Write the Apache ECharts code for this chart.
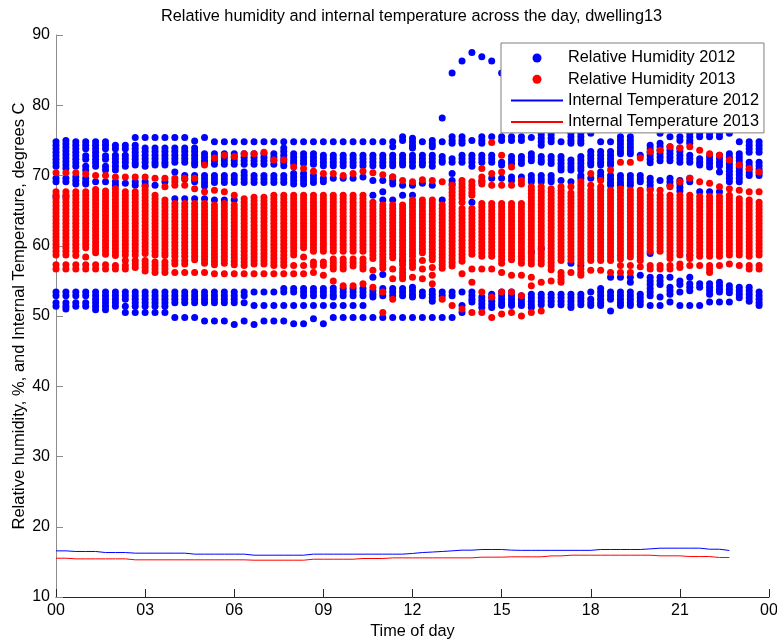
<!DOCTYPE html>
<html>
<head>
<meta charset="utf-8">
<title>dwelling13</title>
<script src="https://cdn.jsdelivr.net/npm/echarts@6/dist/echarts.min.js"></script>
<style>
html, body { margin: 0; padding: 0; background: #fff; }
#box { width: 777px; height: 642px; }
</style>
</head>
<body>
<div id="box"></div>
<script>
// 每20分钟一列 (分钟)
var slots = [0,20,40,60,80,100,120,140,160,180,200,220,240,260,280,300,320,340,360,380,400,420,440,460,
    480,500,520,540,560,580,600,620,640,660,680,700,720,740,760,780,800,820,840,860,880,900,920,940,
    960,980,1000,1020,1040,1060,1080,1100,1120,1140,1160,1180,1200,1220,1240,1260,1280,1300,1320,1340,1360,1380,1400,1420];
var tickLabels = ['00', '03', '06', '09', '12', '15', '18', '21', '00'];

// Relative Humidity 2012, 每列的点
var rh2012 = [
    [74.8,74.3,73.8,73.3,72.8,72.3,71.8,71.3,69.6,69.1,67.0,53.4,52.9,51.9,51.4],
    [75.0,74.5,74.0,73.5,73.0,72.5,72.0,71.5,71.0,69.6,69.1,67.0,53.4,52.9,51.9,51.4,51.0],
    [74.8,74.3,73.8,73.3,72.8,72.3,71.8,71.3,69.8,69.3,68.8,53.4,52.9,51.9,51.4],
    [74.8,74.3,73.8,72.8,72.3,71.3,70.8,69.6,69.1,68.8,53.4,52.9,51.9,51.4],
    [74.8,74.3,73.8,73.3,72.8,72.3,71.8,71.3,69.1,53.4,52.9,52.4,51.9,51.4,50.9],
    [74.8,74.3,73.8,72.8,72.3,71.3,70.8,69.1,53.4,52.9,52.4,51.9,51.4,50.9],
    [74.3,73.8,72.9,72.4,71.9,71.3,70.8,69.1,68.6,53.4,52.9,52.4,51.9,51.4],
    [74.3,73.8,72.9,72.4,71.9,71.3,68.9,53.4,52.9,52.4,51.4,50.5],
    [75.4,74.3,73.8,73.3,72.8,72.3,71.8,71.5,69.1,68.6,53.4,52.9,52.4,51.9,51.4,50.5],
    [75.4,73.9,73.4,72.9,72.4,71.9,71.3,69.1,68.6,53.4,52.9,52.4,51.9,51.4,50.5],
    [75.4,73.9,73.4,72.9,72.4,71.9,71.5,68.6,53.4,52.9,52.4,51.9,51.4,50.5],
    [75.4,73.9,73.4,72.9,72.4,71.9,71.5,69.1,53.4,52.9,52.4,51.9,51.4,50.5],
    [75.4,73.9,73.4,72.9,72.4,71.9,70.5,66.7,53.4,52.9,52.4,51.9,49.8],
    [75.4,73.9,73.4,72.9,72.4,71.9,70.0,69.5,66.7,53.4,52.9,52.4,51.9,49.8],
    [74.9,73.9,73.4,72.9,72.4,71.9,71.5,70.0,69.5,69.1,66.7,53.4,52.9,52.4,51.9,49.8],
    [75.4,73.1,72.6,72.1,71.7,70.0,69.5,69.0,68.5,66.7,53.4,52.9,52.4,51.9,49.3],
    [74.8,73.1,72.6,72.1,71.6,70.0,69.5,69.0,66.5,53.4,52.9,52.4,51.9,49.3],
    [74.8,73.1,72.6,72.1,71.6,70.0,69.5,69.0,66.5,53.4,52.9,52.4,51.9,49.3],
    [74.8,73.1,72.6,72.1,71.6,70.0,69.5,69.0,66.5,53.4,52.9,52.4,51.9,48.8],
    [74.8,73.1,72.6,72.1,71.6,70.5,70.0,69.5,69.0,53.4,52.9,51.9,49.3],
    [74.8,73.1,72.6,72.1,71.6,70.0,69.5,69.0,53.4,51.5,48.8],
    [74.8,73.1,72.6,72.1,71.6,70.0,69.5,69.0,53.4,51.5,49.3],
    [74.8,73.1,72.6,72.1,71.6,70.0,69.5,69.0,53.4,51.5,49.3],
    [74.8,73.9,73.4,72.9,72.4,71.9,71.4,70.0,69.5,69.0,53.9,53.4,51.5,49.3],
    [74.8,73.1,72.6,72.1,71.7,70.3,69.8,69.3,68.8,53.9,53.4,51.5,48.9],
    [74.8,73.1,72.6,72.1,71.7,70.3,69.8,69.3,68.8,53.9,53.4,52.9,51.5,48.9],
    [74.8,73.1,72.6,72.1,71.6,70.0,69.5,69.0,53.9,53.4,52.9,51.5,49.6],
    [74.8,72.9,72.4,71.9,71.4,69.6,69.1,53.9,53.4,52.9,51.5,48.9],
    [74.8,72.9,72.4,71.9,71.4,69.6,54.0,53.5,53.0,52.7,51.5,49.8],
    [74.8,72.9,72.4,71.9,71.4,69.6,53.9,53.4,52.9,51.5,49.8],
    [74.8,72.9,72.4,71.9,71.4,69.6,53.9,53.4,52.9,51.5,49.8],
    [74.8,72.9,72.4,71.9,71.4,69.8,53.9,53.4,52.9,51.5,49.8],
    [74.8,72.9,72.4,71.9,71.4,69.3,67.2,55.5,53.6,53.1,52.7,49.8],
    [74.8,72.9,72.4,71.9,71.4,69.3,67.7,66.5,55.9,53.9,53.4,52.9,49.8],
    [74.8,74.1,72.9,72.4,71.9,71.4,69.8,69.3,68.8,66.5,53.9,53.4,52.9,49.8],
    [75.5,75.0,72.9,72.4,71.9,71.5,68.6,67.2,57.9,53.9,53.4,52.9,49.8],
    [75.3,74.8,74.3,73.9,72.9,72.4,71.9,71.3,68.6,67.2,54.1,53.6,53.1,52.7,49.8],
    [74.8,72.9,72.4,71.9,71.5,68.9,53.4,52.9,49.8],
    [75.0,74.5,74.1,72.9,72.4,71.9,71.3,68.6,53.6,53.1,52.6,52.1,49.8],
    [78.2,74.8,72.7,72.2,71.9,66.5,53.4,52.9,49.8],
    [84.6,75.5,75.0,74.6,72.4,71.9,70.3,69.3,68.8,53.4,52.9,49.8],
    [86.3,75.5,75.0,74.6,72.9,72.4,71.9,53.4,51.5,50.5],
    [87.5,75.0,72.9,72.4,71.9,71.3,66.2,53.4,52.9,52.4,52.0],
    [86.9,75.5,75.0,74.6,72.9,72.4,71.9,69.1,52.7,52.2,51.7,51.2],
    [86.3,75.5,72.9,72.4,71.9,69.6,53.1,52.6,52.1,51.6,51.2],
    [84.6,75.5,75.0,71.9,71.5,69.6,53.4,52.9,52.4,51.9,51.5],
    [75.5,75.0,72.7,72.2,71.7,69.8,69.3,53.4,52.9,52.4,51.9,51.5],
    [75.5,75.0,72.7,72.2,71.7,69.8,52.9,52.4,51.9,51.5],
    [75.4,73.1,72.6,72.1,70.0,69.5,69.1,59.1,53.1,52.6,52.1,51.6,51.2],
    [75.8,75.3,74.8,74.3,72.7,72.2,71.9,70.0,69.5,69.1,59.6,53.1,52.6,52.1,51.6],
    [75.8,75.3,74.8,72.7,72.2,71.7,70.0,69.5,69.1,53.1,52.6,52.1,51.6],
    [74.8,72.7,72.2,71.7,71.2,70.8,69.3,53.1,52.6,52.1,51.6],
    [76.0,75.5,75.0,74.6,72.2,71.7,71.2,70.8,69.1,57.5,53.1,52.6,52.1,51.6,51.2],
    [76.0,75.5,75.0,74.6,72.7,72.2,71.7,71.2,70.8,70.0,69.6,57.2,53.1,52.6,52.1,51.6],
    [76.0,73.4,72.9,72.4,71.9,71.5,69.6,53.4,52.4,51.9,51.5],
    [74.8,73.4,72.9,72.4,71.9,71.5,70.5,70.0,69.6,53.9,53.4,52.9,52.4,51.9,51.5],
    [74.8,73.4,72.9,72.4,71.9,71.5,70.0,69.5,69.0,68.6,55.5,53.4,52.9,52.4,50.7],
    [75.5,75.0,74.5,74.0,73.5,73.1,70.0,69.5,69.0,68.6,55.5,53.4,52.9,52.4,51.9,51.5],
    [75.5,75.0,74.5,74.0,73.5,73.1,70.0,69.5,69.0,68.6,55.5,54.8,53.4,52.9,52.4,51.9,51.5],
    [72.9,70.0,69.5,69.1,55.8,53.1,52.6,52.1,51.6],
    [74.3,73.8,73.3,72.8,72.3,71.8,69.6,69.1,68.6,68.1,58.9,55.5,55.0,54.5,53.9,53.4,52.9,51.5],
    [76.0,74.6,74.1,73.6,73.1,72.6,72.1,69.3,55.5,55.0,54.5,52.7,51.5],
    [75.5,74.1,73.6,73.1,72.6,72.1,69.6,69.1,68.6,55.5,54.1,53.6,53.1,52.0],
    [75.5,75.0,73.9,73.4,72.9,72.4,71.9,69.3,68.8,68.3,67.8,55.0,54.5,53.4,51.5],
    [76.0,75.5,75.0,74.6,72.9,72.4,71.9,69.6,69.1,58.6,55.5,54.6,54.1,53.6,51.5],
    [76.0,75.5,72.4,71.9,71.5,67.7,54.6,54.1,51.5],
    [76.0,75.5,72.7,72.2,71.7,71.2,67.7,54.6,54.1,53.6,53.1,52.0],
    [76.0,75.5,72.9,72.4,71.9,71.4,70.5,67.7,54.8,54.3,53.8,53.4,52.0],
    [76.0,73.1,72.6,72.1,71.6,71.1,70.6,70.1,69.6,69.1,54.3,53.8,53.3,52.0],
    [74.8,73.1,72.6,72.1,71.6,71.1,70.6,70.1,69.6,69.1,54.1,53.6,53.1,52.6],
    [74.8,74.3,73.8,73.3,71.9,71.4,70.9,70.4,70.0,54.1,53.6,53.1,52.6,52.1],
    [74.8,74.3,73.8,73.3,71.9,71.4,70.9,70.4,70.0,53.4,52.9,52.4,51.9,51.5]
];

// Relative Humidity 2013
var rh2013 = [
    [70.4,67.7,67.2,66.7,66.2,65.7,65.2,64.7,64.2,63.7,63.2,62.7,62.2,61.7,61.2,60.7,60.2,59.7,59.2,58.7,57.3,56.7],
    [70.4,67.7,67.2,66.7,66.2,65.7,65.2,64.7,64.2,63.7,63.2,62.7,62.2,61.7,61.2,60.7,60.2,59.7,59.2,58.7,57.3,56.7],
    [70.4,67.7,67.2,66.7,66.2,65.7,65.2,64.7,64.2,63.7,63.2,62.7,62.2,61.7,61.2,60.7,60.2,59.7,59.2,58.6,57.3,56.7],
    [70.2,67.7,67.2,66.7,66.2,65.7,65.2,64.7,64.2,63.7,63.2,62.7,62.2,61.7,61.2,60.7,60.2,59.7,58.4,57.3,56.7],
    [70.0,68.0,67.5,67.0,66.5,66.0,65.5,65.0,64.5,64.0,63.5,63.0,62.5,62.0,61.5,61.0,60.5,60.0,59.5,59.0,57.3,56.7],
    [70.0,67.8,67.3,66.8,66.3,65.8,65.3,64.8,64.3,63.8,63.3,62.8,62.3,61.8,61.3,60.8,60.3,59.8,59.3,58.8,57.3,56.7],
    [69.8,68.1,67.6,67.1,66.6,66.1,65.6,65.1,64.6,64.1,63.6,63.1,62.6,62.1,61.6,61.1,60.6,60.1,59.6,59.1,58.6,57.2,56.7],
    [69.8,67.7,67.2,66.7,66.2,65.7,65.2,64.7,64.2,63.7,63.2,62.7,62.2,61.7,61.2,60.7,60.2,59.7,59.2,58.7,57.9,57.2,56.7],
    [69.8,67.7,67.2,66.7,66.2,65.7,65.2,64.7,64.2,63.7,63.2,62.7,62.2,61.7,61.2,60.7,60.2,59.7,59.2,58.7,57.9,57.4,56.9],
    [69.8,68.4,67.9,67.4,66.9,66.4,65.9,65.4,64.9,64.4,63.9,63.4,62.9,62.4,61.9,61.4,60.9,60.4,59.9,59.4,58.9,57.9,57.4,56.9,56.4],
    [69.6,67.2,66.7,66.2,65.7,65.2,64.7,64.2,63.7,63.2,62.7,62.2,61.7,61.2,60.7,60.2,59.7,59.2,58.7,57.7,57.2,56.7,56.2],
    [69.6,68.4,66.5,66.0,65.5,65.0,64.5,64.0,63.5,63.0,62.5,62.0,61.5,61.0,60.5,60.0,59.5,59.0,58.6,57.7,57.2,56.7,56.2],
    [69.6,69.1,68.6,66.0,65.5,65.0,64.5,64.0,63.5,63.0,62.5,62.0,61.5,61.0,60.5,60.0,59.5,59.0,58.5,57.9,57.4,56.2],
    [69.6,68.6,66.0,65.5,65.0,64.5,64.0,63.5,63.0,62.5,62.0,61.5,61.0,60.5,60.0,59.5,59.0,58.5,57.9,57.4,56.2],
    [69.6,68.1,66.0,65.5,65.0,64.5,64.0,63.5,63.0,62.5,62.0,61.5,61.0,60.5,60.0,59.5,59.0,58.5,58.0,56.2],
    [71.5,67.7,66.0,65.5,65.0,64.5,64.0,63.5,63.0,62.5,62.0,61.5,61.0,60.5,60.0,59.5,59.0,58.5,58.0,57.5,56.2],
    [72.5,67.9,65.8,65.3,64.8,64.3,63.8,63.3,62.8,62.3,61.8,61.3,60.8,60.3,59.8,59.3,58.8,58.3,57.8,57.3,56.0],
    [72.9,67.7,66.0,65.5,65.0,64.5,64.0,63.5,63.0,62.5,62.0,61.5,61.0,60.5,60.0,59.5,59.0,58.5,58.0,57.5,56.0],
    [72.7,67.2,65.8,65.3,64.8,64.3,63.8,63.3,62.8,62.3,61.8,61.3,60.8,60.3,59.8,59.3,58.8,58.3,57.8,57.3,56.0],
    [73.1,66.7,66.2,65.7,65.2,64.7,64.2,63.7,63.2,62.7,62.2,61.7,61.2,60.7,60.2,59.7,59.2,58.7,58.2,57.7,57.2,56.0],
    [73.1,66.9,66.4,65.9,65.4,64.9,64.4,63.9,63.4,62.9,62.4,61.9,61.4,60.9,60.4,59.9,59.4,58.9,58.4,57.9,57.4,56.0],
    [73.3,66.9,66.4,65.9,65.4,64.9,64.4,63.9,63.4,62.9,62.4,61.9,61.4,60.9,60.4,59.9,59.4,58.9,58.4,57.9,57.4,56.0],
    [72.2,67.2,66.7,66.2,65.7,65.2,64.7,64.2,63.7,63.2,62.7,62.2,61.7,61.2,60.7,60.2,59.7,59.2,58.7,58.2,57.7,57.2,56.0],
    [72.2,67.2,66.7,66.2,65.7,65.2,64.7,64.2,63.7,63.2,62.7,62.2,61.7,61.2,60.7,60.2,59.7,59.2,58.7,58.2,57.7,57.2,56.0],
    [71.2,67.2,66.7,66.2,65.7,65.2,64.7,64.2,63.7,63.2,62.7,62.2,61.7,61.2,60.7,60.2,59.7,59.2,58.7,57.2,56.0],
    [71.0,67.2,66.7,66.2,65.7,65.2,64.7,64.2,63.7,63.2,62.7,62.2,61.7,61.2,60.7,60.2,59.7,58.4,57.2,56.0],
    [70.6,67.2,66.7,66.2,65.7,65.2,64.7,64.2,63.7,63.2,62.7,62.2,61.7,61.2,60.7,60.2,59.7,59.2,57.7,57.2,56.2],
    [70.3,67.2,66.7,66.2,65.7,65.2,64.7,64.2,63.7,63.2,62.7,62.2,61.7,61.2,60.7,60.2,59.7,59.2,57.7,57.2,55.8],
    [70.3,67.2,66.7,66.2,65.7,65.2,64.7,64.2,63.7,63.2,62.7,62.2,61.7,61.2,60.7,60.2,59.7,59.2,58.1,57.6,57.1,56.7,55.0],
    [70.0,67.2,66.7,66.2,65.7,65.2,64.7,64.2,63.7,63.2,62.7,62.2,61.7,61.2,60.7,60.2,59.7,59.2,58.1,57.6,57.1,56.7,54.3],
    [70.3,67.2,66.7,66.2,65.7,65.2,64.7,64.2,63.7,63.2,62.7,62.2,61.7,61.2,60.7,60.2,59.7,59.2,58.1,57.6,57.1,54.3],
    [70.6,67.2,66.7,66.2,65.7,65.2,64.7,64.2,63.7,63.2,62.7,62.2,61.7,61.2,60.7,60.2,59.7,59.2,58.1,57.6,57.1,56.7,54.6],
    [70.4,66.2,65.7,65.2,64.7,64.2,63.7,63.2,62.7,62.2,61.7,61.2,60.7,60.2,59.7,59.2,58.7,58.2,56.5,54.1],
    [70.1,65.8,65.3,64.8,64.3,63.8,63.3,62.8,62.3,61.8,61.3,60.8,60.3,59.8,59.3,58.8,58.3,57.8,57.3,56.8,53.4,50.5],
    [69.8,65.8,65.3,64.8,64.3,63.8,63.3,62.8,62.3,61.8,61.3,60.8,60.3,59.8,59.3,58.8,58.3,56.7,55.3,52.4],
    [69.3,65.8,65.3,64.8,64.3,63.8,63.3,62.8,62.3,61.8,61.3,60.8,60.3,59.8,59.3,58.8,58.3,57.8,57.3,56.7,56.2,55.7,55.3],
    [69.1,66.5,66.0,65.5,65.0,64.5,64.0,63.5,63.0,62.5,62.0,61.5,61.0,60.5,60.0,59.5,59.0,58.5,57.9,57.4,56.9,55.5],
    [69.4,66.5,66.0,65.5,65.0,64.5,64.0,63.5,63.0,62.5,62.0,61.5,61.0,60.5,60.0,59.5,59.0,57.9,56.7,55.3],
    [69.3,66.5,66.0,65.5,65.0,64.5,64.0,63.5,63.0,62.5,62.0,61.5,61.0,60.5,60.0,59.5,59.0,58.5,58.0,56.9,55.8,54.6],
    [69.1,65.8,65.3,64.8,64.3,63.8,63.3,62.8,62.3,61.8,61.3,60.8,60.3,59.8,59.3,58.8,58.3,57.8,57.3,56.8,52.4],
    [68.6,68.1,67.6,67.1,66.6,66.1,65.6,65.1,64.6,64.1,63.6,63.1,62.6,62.1,61.6,61.1,60.6,60.1,59.6,59.1,58.6,58.1,57.6,57.1,51.5],
    [69.3,68.8,68.3,67.8,67.3,66.8,66.2,65.3,64.8,64.3,63.8,63.3,62.8,62.3,61.8,61.3,60.8,60.3,59.8,59.3,58.8,58.3,57.8,56.0,51.0],
    [69.1,68.6,68.1,67.6,67.2,65.3,64.8,64.3,63.8,63.3,62.8,62.3,61.8,61.3,60.8,60.3,59.8,59.3,58.8,56.7,54.8,50.5],
    [71.0,69.8,69.3,68.8,66.0,65.5,65.0,64.5,64.0,63.5,63.0,62.5,62.0,61.5,61.0,60.5,60.0,59.5,59.0,58.5,56.7,53.4,50.5],
    [74.7,70.3,68.6,66.0,65.5,65.0,64.5,64.0,63.5,63.0,62.5,62.0,61.5,61.0,60.5,60.0,59.5,59.0,58.5,56.7,52.7,49.8],
    [72.9,70.5,68.6,66.0,65.5,65.0,64.5,64.0,63.5,63.0,62.5,62.0,61.5,61.0,60.5,60.0,59.5,59.0,58.5,58.0,57.5,56.2,53.4,50.3],
    [71.2,68.6,66.0,65.5,65.0,64.5,64.0,63.5,63.0,62.5,62.0,61.5,61.0,60.5,60.0,59.5,59.0,58.5,58.0,55.8,53.4,50.5],
    [69.3,68.8,66.0,65.5,65.0,64.5,64.0,63.5,63.0,62.5,62.0,61.5,61.0,60.5,60.0,59.5,59.0,58.5,58.0,57.5,55.8,52.9,50.0],
    [68.4,67.9,67.4,66.9,66.4,65.9,65.4,64.9,64.4,63.9,63.4,62.9,62.4,61.9,61.4,60.9,60.4,59.9,59.4,58.9,58.4,57.9,57.4,55.5,54.3,50.5],
    [68.4,67.9,67.4,66.9,66.4,65.9,65.4,64.9,64.4,63.9,63.4,62.9,62.4,61.9,61.4,60.9,60.4,59.9,59.4,58.9,58.4,57.9,57.4,54.8,50.7],
    [68.1,67.6,67.1,66.6,66.1,65.6,65.1,64.6,64.1,63.6,63.1,62.6,62.1,61.6,61.1,60.6,60.1,59.6,59.1,58.6,58.1,57.6,57.1,56.6,55.0],
    [68.4,67.9,67.4,66.9,66.4,65.9,65.4,64.9,64.4,63.9,63.4,62.9,62.4,61.9,61.4,60.9,60.4,59.9,59.4,58.9,58.4,57.9,56.2,55.7,55.2,54.8],
    [68.4,67.5,67.0,66.5,66.0,65.5,65.0,64.5,64.0,63.5,63.0,62.5,62.0,61.5,61.0,60.5,60.0,59.5,59.0,58.5,58.0,56.2],
    [69.1,68.6,68.1,67.6,67.1,66.6,66.1,65.6,65.1,64.6,64.1,63.6,63.1,62.6,62.1,61.6,61.1,60.6,60.1,59.6,59.1,58.6,58.1,57.6,56.7,56.2,55.8],
    [70.3,68.6,67.9,67.4,66.9,66.4,65.9,65.4,64.9,64.4,63.9,63.4,62.9,62.4,61.9,61.4,60.9,60.4,59.9,59.4,58.9,58.4,57.9,56.5],
    [69.3,68.4,67.9,67.4,66.9,66.4,65.9,65.4,64.9,64.4,63.9,63.4,62.9,62.4,61.9,61.4,60.9,60.4,59.9,59.4,58.9,58.4,57.9,56.5],
    [70.8,67.9,67.4,66.9,66.4,65.9,65.4,64.9,64.4,63.9,63.4,62.9,62.4,61.9,61.4,60.9,60.4,59.9,59.4,58.9,58.4,57.9,56.2],
    [71.9,68.1,67.6,67.1,66.6,66.1,65.6,65.1,64.6,64.1,63.6,63.1,62.6,62.1,61.6,61.1,60.6,60.1,59.6,59.1,58.6,58.1,57.2,56.2],
    [71.9,67.9,67.4,66.9,66.4,65.9,65.4,64.9,64.4,63.9,63.4,62.9,62.4,61.9,61.4,60.9,60.4,59.9,59.4,58.9,58.4,57.2,56.2],
    [72.5,67.9,67.4,66.9,66.4,65.9,65.4,64.9,64.4,63.9,63.4,62.9,62.4,61.9,61.4,60.9,60.4,59.9,59.4,58.9,58.4,57.9,57.0],
    [73.4,67.9,67.2,66.7,66.2,65.7,65.2,64.7,64.2,63.7,63.2,62.7,62.2,61.7,61.2,60.7,60.2,59.7,59.2,57.2,56.7],
    [73.6,67.9,67.2,66.7,66.2,65.7,65.2,64.7,64.2,63.7,63.2,62.7,62.2,61.7,61.2,60.7,60.2,59.7,59.2,57.2,56.7],
    [74.1,68.4,67.2,66.7,66.2,65.7,65.2,64.7,64.2,63.7,63.2,62.7,62.2,61.7,61.2,60.7,60.2,59.7,59.2,58.7,58.2,57.2,56.7],
    [73.9,69.1,67.2,66.7,66.2,65.7,65.2,64.7,64.2,63.7,63.2,62.7,62.2,61.7,61.2,60.7,60.2,59.7,59.2,58.7,57.4,56.9],
    [74.1,69.6,67.2,66.7,66.2,65.7,65.2,64.7,64.2,63.7,63.2,62.7,62.2,61.7,61.2,60.7,60.2,59.7,59.2,58.7,58.2,57.2],
    [73.6,69.1,67.0,66.5,66.0,65.5,65.0,64.5,64.0,63.5,63.0,62.5,62.0,61.5,61.0,60.5,60.0,59.5,59.0,58.5,57.2],
    [73.1,68.9,67.0,66.5,66.0,65.5,65.0,64.5,64.0,63.5,63.0,62.5,62.0,61.5,61.0,60.5,60.0,59.5,59.0,58.5,57.2,56.7,56.2],
    [72.9,68.4,67.0,66.5,66.0,65.5,65.0,64.5,64.0,63.5,63.0,62.5,62.0,61.5,61.0,60.5,60.0,59.5,59.0,58.5,57.2],
    [72.2,68.1,67.2,66.7,66.2,65.7,65.2,64.7,64.2,63.7,63.2,62.7,62.2,61.7,61.2,60.7,60.2,59.7,59.2,58.7,57.4],
    [71.5,67.9,66.7,66.2,65.7,65.2,64.7,64.2,63.7,63.2,62.7,62.2,61.7,61.2,60.7,60.2,59.7,59.2,58.7,57.2],
    [71.0,67.7,66.5,66.0,65.5,65.0,64.5,64.0,63.5,63.0,62.5,62.0,61.5,61.0,60.5,60.0,59.5,59.0,58.5,57.2,56.7],
    [70.5,67.7,66.2,65.7,65.2,64.7,64.2,63.7,63.2,62.7,62.2,61.7,61.2,60.7,60.2,59.7,59.2,58.7,57.2,56.7]
];

// 室内温度 (到 22:40)
var temp2012 = [16.57,16.57,16.48,16.48,16.48,16.33,16.33,16.33,16.24,16.24,
    16.24,16.24,16.24,16.24,16.10,16.10,16.10,16.10,16.10,16.10,
    15.95,15.95,15.95,15.95,15.95,15.95,16.10,16.10,16.10,16.10,
    16.10,16.10,16.10,16.10,16.10,16.10,16.20,16.33,16.40,16.48,
    16.57,16.67,16.67,16.76,16.76,16.76,16.67,16.64,16.64,16.64,
    16.64,16.64,16.64,16.64,16.64,16.76,16.76,16.76,16.76,16.76,
    16.85,16.95,16.95,16.95,16.95,16.95,16.80,16.80,16.62];
var temp2013 = [15.52,15.52,15.43,15.43,15.43,15.43,15.43,15.43,15.29,15.29,
    15.29,15.29,15.29,15.29,15.29,15.29,15.29,15.29,15.29,15.29,
    15.24,15.24,15.24,15.24,15.24,15.24,15.38,15.38,15.38,15.38,
    15.38,15.48,15.48,15.48,15.57,15.57,15.57,15.57,15.57,15.57,
    15.57,15.57,15.57,15.67,15.67,15.67,15.72,15.72,15.72,15.72,
    15.85,15.85,15.95,15.95,15.95,15.95,15.95,15.95,15.95,15.95,
    15.95,15.86,15.86,15.86,15.76,15.76,15.76,15.62,15.62];

var font = "'Liberation Sans', Arial, Helvetica, sans-serif";

function toPoints(cols) {
    var pts = [];
    for (var i = 0; i < cols.length; i++) {
        for (var j = 0; j < cols[i].length; j++) {
            pts.push([slots[i] / 60, cols[i][j]]);
        }
    }
    return pts;
}

function toLine(vals) {
    var pts = [];
    for (var i = 0; i < vals.length; i++) {
        pts.push([slots[i] / 60, vals[i]]);
    }
    return pts;
}

// 散点 + 折线
function ech() {
    var myChart = echarts.init(document.getElementById('box'));
    var option = {
        animation: false,
        backgroundColor: '#fff',
        textStyle: { fontFamily: font },
        title: {
            text: 'Relative humidity and internal temperature across the day, dwelling13',
            left: 156,
            top: 4,
            textStyle: { fontSize: 16.3, fontWeight: 'normal', color: '#000', fontFamily: font }
        },
        legend: {
            orient: 'vertical',
            left: 501,
            top: 43,
            padding: [7, 5, 3, 9],
            itemGap: 5.3,
            itemWidth: 52,
            itemHeight: 9,
            backgroundColor: '#fff',
            borderColor: '#7f7f7f',
            borderWidth: 1,
            textStyle: { fontSize: 16.3, color: '#000', lineHeight: 16, fontFamily: font },
            data: [
                'Relative Humidity 2012',
                'Relative Humidity 2013',
                { name: 'Internal Temperature 2012', itemStyle: { opacity: 0 } },
                { name: 'Internal Temperature 2013', itemStyle: { opacity: 0 } }
            ]
        },
        // 固定绘图区，不让坐标轴文字挤压
        grid: { left: 56, right: 8, top: 35, bottom: 45, outerBoundsMode: 'none', containLabel: false },
        xAxis: {
            type: 'value',
            min: 0,
            max: 24,
            interval: 3,
            name: 'Time of day',
            nameLocation: 'middle',
            nameGap: 27,
            nameMoveOverlap: false,
            nameTextStyle: { fontSize: 16.3, color: '#000', fontFamily: font },
            axisLine: { onZero: false, lineStyle: { color: '#262626', width: 1 } },
            axisTick: { inside: true, length: 8, lineStyle: { color: '#262626' } },
            axisLabel: {
                margin: 6,
                fontSize: 16,
                color: '#000',
                fontFamily: font,
                formatter: function(v) { return tickLabels[Math.round(v / 3)]; }
            },
            splitLine: { show: false }
        },
        yAxis: {
            type: 'value',
            min: 10,
            max: 90,
            interval: 10,
            name: 'Relative humidity, %, and Internal Temperature, degrees C',
            nameLocation: 'middle',
            nameRotate: 90,
            nameGap: 28,
            nameMoveOverlap: false,
            nameTextStyle: { fontSize: 16.5, color: '#000', fontFamily: font },
            axisLine: { show: true, lineStyle: { color: '#8c8c8c', width: 1 } },
            axisTick: { show: true, inside: true, length: 7, lineStyle: { color: '#8c8c8c' } },
            axisLabel: { margin: 6, fontSize: 16, color: '#000', fontFamily: font },
            splitLine: { show: false }
        },
        series: [{
                name: 'Relative Humidity 2012',
                type: 'scatter',
                symbol: 'circle',
                symbolSize: 7,
                silent: true,
                itemStyle: { color: '#0000ff', opacity: 1 },
                data: toPoints(rh2012)
            },
            {
                name: 'Relative Humidity 2013',
                type: 'scatter',
                symbol: 'circle',
                symbolSize: 7,
                silent: true,
                itemStyle: { color: '#ff0000', opacity: 1 },
                data: toPoints(rh2013)
            },
            {
                name: 'Internal Temperature 2012',
                type: 'line',
                symbol: 'none',
                silent: true,
                lineStyle: { color: '#0000ff', width: 1 },
                itemStyle: { color: '#0000ff' },
                data: toLine(temp2012)
            },
            {
                name: 'Internal Temperature 2013',
                type: 'line',
                symbol: 'none',
                silent: true,
                lineStyle: { color: '#ff0000', width: 1 },
                itemStyle: { color: '#ff0000' },
                data: toLine(temp2013)
            }
        ]
    };
    myChart.setOption(option);
}
ech();
</script>
</body>
</html>
